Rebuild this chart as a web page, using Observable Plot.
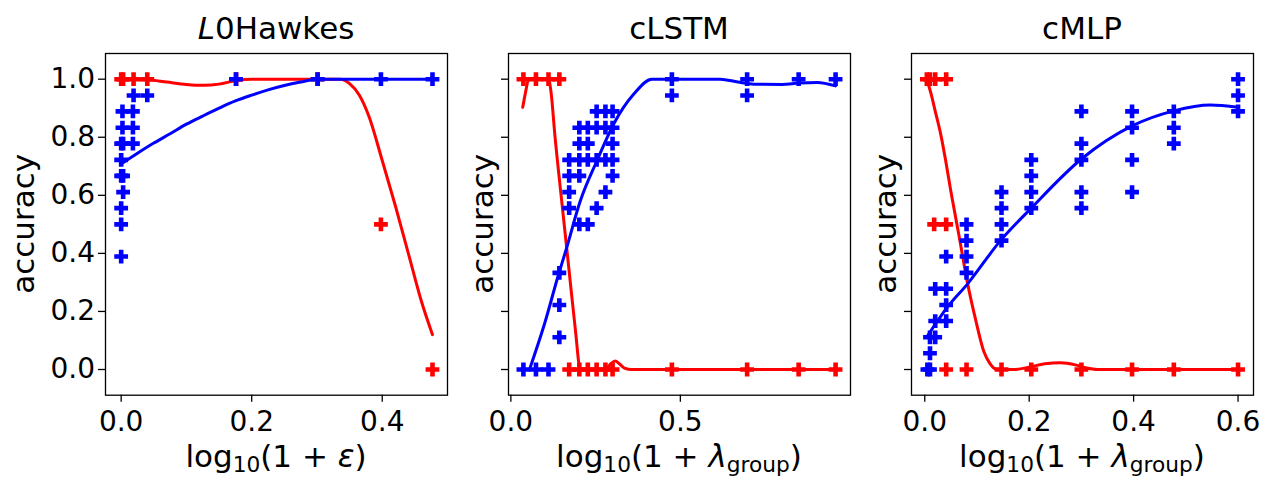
<!DOCTYPE html>
<html><head><meta charset="utf-8">
<script src="https://cdn.jsdelivr.net/npm/d3@7"></script>
<script src="https://cdn.jsdelivr.net/npm/@observablehq/plot@0.6"></script>
<style>
body{margin:0;background:#fff;}
#wrap{position:relative;width:1261px;height:477px;overflow:hidden;background:#fff;}
#wrap svg{position:absolute;top:0;}
</style></head><body><div id="wrap"></div>
<script>
// ---------- shared ----------
const yTicks = [0, 0.2, 0.4, 0.6, 0.8, 1.0];
const titles = ["L0Hawkes", "cLSTM", "cMLP"];

// ---------- L0Hawkes ----------
const hawkesXTicks = [0, 0.2, 0.4];
const hawkesBluePtsX = [0.176,0.301,0.398,0.477, 0.019,0.040, 0.002,0.018, 0.002,0.018, 0,0.003,0.018, 0, 0,0.003, 0.003, 0, 0, 0];
const hawkesBluePtsY = [1,1,1,1, 0.944,0.944, 0.889,0.889, 0.833,0.833, 0.778,0.778,0.778, 0.722, 0.667,0.667, 0.611, 0.556, 0.5, 0.389];
const hawkesRedPtsX = [0,0.003,0.019,0.040,0.176,0.301,0.398,0.477];
const hawkesRedPtsY = [1,1,1,1,1,1,0.5,0];
const hawkesRedLineX = [0,0.04,0.07,0.10,0.127,0.15,0.175,0.2,0.25,0.3,0.336,0.35,0.365,0.38,0.40,0.42,0.44,0.46,0.477];
const hawkesRedLineY = [1,0.998,0.99,0.982,0.979,0.983,0.995,1,1,1,1,0.985,0.945,0.87,0.72,0.565,0.40,0.235,0.12];
const hawkesBlueLineX = [0,0.025,0.05,0.075,0.1,0.125,0.15,0.175,0.2,0.225,0.25,0.275,0.3,0.477];
const hawkesBlueLineY = [0.708,0.745,0.78,0.812,0.845,0.873,0.9,0.925,0.945,0.963,0.978,0.99,1.0,1.0];

// ---------- cLSTM ----------
const lstmXTicks = [0, 0.5];
const lstmBluePtsX = [0.037,0.074,0.111, 0.143,0.143,0.143, 0.202,0.227, 0.172,0.253, 0.172,0.279,
  0.172,0.202,0.300, 0.172,0.202,0.227,0.253,0.279,0.300, 0.202,0.227,0.300,
  0.202,0.227,0.253,0.279,0.300, 0.253,0.279,0.300, 0.475,0.697,0.849,0.958, 0.475,0.697];
const lstmBluePtsY = [0,0,0, 0.111,0.222,0.333, 0.5,0.5, 0.556,0.556, 0.611,0.611,
  0.667,0.667,0.667, 0.722,0.722,0.722,0.722,0.722,0.722, 0.778,0.778,0.778,
  0.833,0.833,0.833,0.833,0.833, 0.889,0.889,0.889, 1,1,1,1, 0.944,0.944];
const lstmRedPtsX = [0.037,0.074,0.111,0.143, 0.172,0.202,0.227,0.253,0.279,0.300,0.475,0.697,0.849,0.958];
const lstmRedPtsY = [1,1,1,1, 0,0,0,0,0,0,0,0,0,0];
const lstmRedLineX = [0.035,0.045,0.052,0.08,0.111,0.118,0.13,0.15,0.17,0.19,0.205,0.24,0.28,0.295,0.308,0.32,0.335,0.357,0.6,0.958];
const lstmRedLineY = [0.903,0.965,1.0,1.0,1.0,0.96,0.805,0.58,0.36,0.14,0.0,0.0,0.0,0.02,0.029,0.02,0.005,0.0,0.0,0.0];
const lstmBlueLineX = [0.055,0.1,0.141,0.162,0.205,0.254,0.303,0.362,0.416,0.5,0.618,0.67,0.717,0.8,0.85,0.904,0.958];
const lstmBlueLineY = [0,0.16,0.329,0.409,0.581,0.719,0.845,0.948,1.0,1.0,1.0,0.99,0.983,0.982,0.987,0.989,0.977];

// ---------- cMLP ----------
const mlpXTicks = [0, 0.2, 0.4, 0.6];
const mlpBluePtsX = [0.600,0.600,0.600, 0.477,0.477,0.477, 0.397,0.397,0.397,0.397,
  0.300,0.300,0.300,0.300,0.300, 0.204,0.204,0.204,0.204, 0.147,0.147,0.147,0.147,
  0.080,0.080,0.080,0.080, 0.041,0.041,0.041,0.041, 0.020,0.020,0.020, 0.010,0.010,0.010, 0.005];
const mlpBluePtsY = [1,0.944,0.889, 0.889,0.833,0.778, 0.889,0.833,0.722,0.611,
  0.889,0.778,0.722,0.611,0.556, 0.722,0.667,0.611,0.556, 0.611,0.556,0.5,0.444,
  0.5,0.444,0.389,0.333, 0.389,0.278,0.222,0.167, 0.278,0.167,0.111, 0.111,0.056,0, 0];
const mlpRedPtsX = [0.004,0.010,0.020,0.041, 0.018,0.041, 0.041,0.080,0.147,0.204,0.300,0.397,0.477,0.600];
const mlpRedPtsY = [1,1,1,1, 0.5,0.5, 0,0,0,0,0,0,0,0];
const mlpRedLineX = [0.004,0.012,0.02,0.0306,0.04,0.0497,0.0657,0.0816,0.0976,0.1135,0.125,0.135,0.15,0.17,0.2,0.23,0.26,0.29,0.31,0.33,0.6];
const mlpRedLineY = [1.0,0.95,0.89,0.81,0.72,0.617,0.46,0.30,0.17,0.06,0.02,0.002,0,0,0.008,0.02,0.023,0.015,0.005,0,0];
const mlpBlueLineX = [0.005,0.043,0.082,0.145,0.204,0.3,0.397,0.477,0.547,0.6];
const mlpBlueLineY = [0.115,0.214,0.295,0.444,0.556,0.725,0.839,0.891,0.911,0.903];

const zip = (xs, ys) => xs.map((x, i) => ({x, y: ys[i]}));
const RED = "#ff0000", BLUE = "#0000ff";
const TICK_FS = 28, LABEL_FS = 31, TITLE_FS = 31;

const panels = [
  {left: 0, width: 460, ml: 105, mr: 13, domain: [-0.024, 0.5], ticks: hawkesXTicks, yLabels: true, ylabX: 34,
   bp: zip(hawkesBluePtsX, hawkesBluePtsY), rp: zip(hawkesRedPtsX, hawkesRedPtsY),
   bl: zip(hawkesBlueLineX, hawkesBlueLineY), rl: zip(hawkesRedLineX, hawkesRedLineY), sym: "ε", sub: null},
  {left: 460, width: 400, ml: 48, mr: 10, domain: [-0.007, 1.002], ticks: lstmXTicks, yLabels: false, ylabX: 33,
   bp: zip(lstmBluePtsX, lstmBluePtsY), rp: zip(lstmRedPtsX, lstmRedPtsY),
   bl: zip(lstmBlueLineX, lstmBlueLineY), rl: zip(lstmRedLineX, lstmRedLineY), sym: "λ", sub: "group"},
  {left: 860, width: 401, ml: 51, mr: 8, domain: [-0.0254, 0.6296], ticks: mlpXTicks, yLabels: false, ylabX: 36,
   bp: zip(mlpBluePtsX, mlpBluePtsY), rp: zip(mlpRedPtsX, mlpRedPtsY),
   bl: zip(mlpBlueLineX, mlpBlueLineY), rl: zip(mlpRedLineX, mlpRedLineY), sym: "λ", sub: "group"}
];

const wrap = d3.select("#wrap");
const H = 477, MT = 53, MB = 82.3;

panels.forEach((p, i) => {
  const svg = Plot.plot({
    width: p.width, height: H,
    marginTop: MT, marginBottom: MB, marginLeft: p.ml, marginRight: p.mr,
    style: {fontFamily: "DejaVu Sans", fontSize: TICK_FS + "px", background: "white", color: "black", overflow: "visible"},
    x: {domain: p.domain},
    y: {domain: [-0.0885, 1.0885]},
    marks: [
      Plot.line(p.rl, {x: "x", y: "y", stroke: RED, strokeWidth: 3, curve: "monotone-x"}),
      Plot.dot(p.rp, {x: "x", y: "y", symbol: "cross", r: 5.8, fill: RED, stroke: "none"}),
      Plot.line(p.bl, {x: "x", y: "y", stroke: BLUE, strokeWidth: 3, curve: "monotone-x"}),
      Plot.dot(p.bp, {x: "x", y: "y", symbol: "cross", r: 5.8, fill: BLUE, stroke: "none"}),
      Plot.frame({stroke: "black", strokeWidth: 1.3}),
      Plot.axisX({ticks: p.ticks, tickSize: 7, tickPadding: 8.5, tickFormat: d3.format(".1f"), label: null, strokeWidth: 1.3, fontSize: TICK_FS}),
      Plot.axisY({ticks: yTicks, tickSize: 7, tickPadding: 3.5, tickFormat: p.yLabels ? d3.format(".1f") : () => "", label: null, strokeWidth: 1.3, fontSize: TICK_FS})
    ]
  });
  const s = d3.select(svg).style("left", p.left + "px");
  const cx = p.ml + (p.width - p.ml - p.mr) / 2;
  // title
  const t = s.append("text").attr("x", cx).attr("y", 38.5).attr("text-anchor", "middle")
    .attr("font-size", TITLE_FS).attr("fill", "black");
  if (i === 0) {
    t.append("tspan").attr("font-style", "italic").text("L");
    t.append("tspan").text("0Hawkes");
  } else t.text(titles[i]);
  // y label
  s.append("text").attr("transform", `translate(${p.ylabX},${(MT + H - MB) / 2}) rotate(-90)`)
    .attr("text-anchor", "middle").attr("font-size", LABEL_FS).attr("fill", "black").text("accuracy");
  // x label
  const xl = s.append("text").attr("x", cx).attr("y", 467).attr("text-anchor", "middle")
    .attr("font-size", LABEL_FS).attr("fill", "black");
  xl.append("tspan").text("log");
  xl.append("tspan").attr("font-size", LABEL_FS * 0.7).attr("dy", 4.5).text("10");
  xl.append("tspan").attr("dy", -4.5).text("(1 + ");
  xl.append("tspan").attr("font-style", "italic").text(p.sym);
  if (p.sub) xl.append("tspan").attr("font-size", LABEL_FS * 0.7).attr("dy", 4.5).text(p.sub);
  xl.append("tspan").attr("dy", p.sub ? -4.5 : 0).text(")");
  wrap.node().appendChild(svg);
});
</script>
</body></html>
